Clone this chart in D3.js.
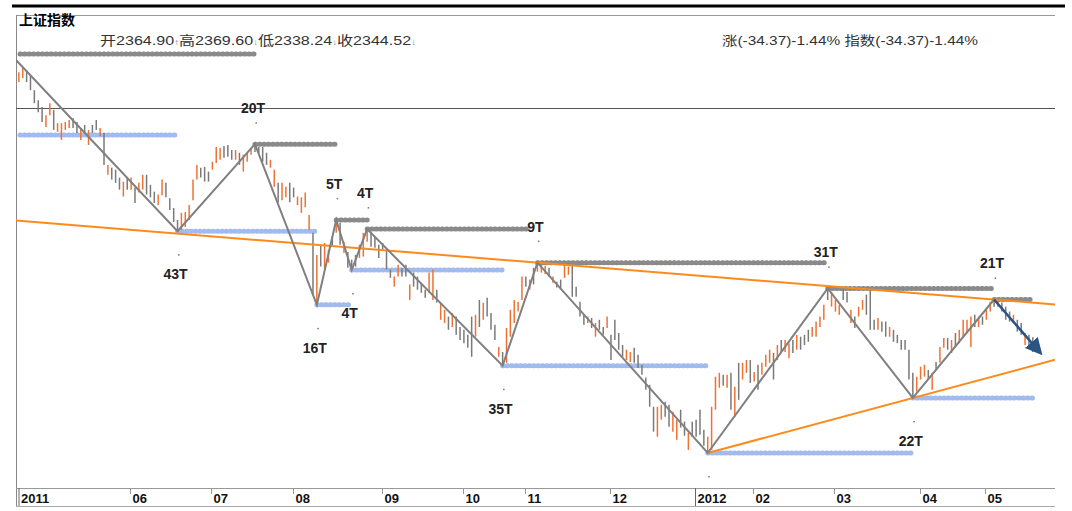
<!DOCTYPE html>
<html>
<head>
<meta charset="utf-8">
<script src="https://cdn.jsdelivr.net/npm/d3@7"></script>
<style>
body { margin: 0; background: #fff; }
text { font-family: "Liberation Sans", Arial, "Noto Sans CJK SC", sans-serif; }
</style>
</head>
<body>
<div id="viz"></div>
<script>
// daily bars, index 0 = 2011-04-19 (trading days)
var dayHigh = [
 3067,3019,3031,3025,3011,2970,2943,2925,2903,2935,
 2917,2882,2882,2885,2890,2895,2885,2869,2877,2864,
 2877,2890,2869,2856,2774,2767,2762,2742,2732,2742,
 2742,2717,2729,2749,2749,2724,2707,2700,2737,2729,
 2691,2667,2638,2655,2657,2674,2737,2774,2767,2769,
 2757,2782,2820,2817,2822,2825,2812,2812,2805,2800,
 2805,2817,2827,2820,2820,2805,2787,2762,2729,2729,
 2719,2729,2717,2695,2693,2705,2650,2607,2555,2579,
 2583,2567,2597,2638,2631,2586,2562,2544,2555,2579,
 2607,2616,2607,2597,2579,2583,2567,2521,2505,2532,
 2525,2532,2487,2514,2505,2491,2475,2514,2521,2475,
 2446,2430,2415,2423,2415,2392,2386,2375,2415,2419,
 2452,2446,2457,2423,2397,2349,2338,2390,2430,2452,
 2448,2505,2505,2498,2525,2537,2532,2530,2525,2505,
 2493,2498,2532,2528,2532,2482,2448,2419,2415,2412,
 2401,2408,2392,2415,2375,2408,2379,2353,2343,2338,
 2347,2332,2311,2284,2269,2224,2224,2228,2234,2228,
 2214,2198,2218,2194,2172,2194,2198,2218,2178,2164,
 2224,2286,2294,2290,2290,2294,2265,2315,2315,2321,
 2321,2296,2311,2315,2332,2343,2336,2353,2364,2364,
 2357,2364,2375,2371,2375,2386,2392,2404,2415,2441,
 2478,2470,2452,2441,2475,2470,2430,2415,2437,2452,
 2464,2475,2408,2412,2404,2404,2392,2386,2375,2364,
 2364,2343,2294,2286,2307,2311,2300,2294,2317,2349,
 2368,2368,2364,2379,2386,2408,2408,2415,2419,2415,
 2415,2430,2448,2453,2452,2446,2437,2426,2419,2408,
 2401,2379,2375,2370
];
var dayLow = [
 3031,2992,3003,2992,2970,2935,2911,2885,2872,2903,
 2864,2859,2838,2864,2869,2869,2856,2838,2856,2825,
 2856,2864,2848,2774,2749,2737,2729,2712,2695,2712,
 2712,2679,2705,2712,2700,2693,2679,2674,2698,2693,
 2662,2633,2611,2614,2621,2638,2686,2737,2742,2732,
 2732,2762,2779,2787,2792,2795,2787,2787,2774,2757,
 2782,2800,2807,2805,2782,2774,2767,2719,2681,2686,
 2693,2681,2693,2674,2655,2669,2614,2464,2441,2528,
 2521,2537,2574,2607,2579,2560,2525,2521,2528,2548,
 2551,2586,2574,2572,2548,2567,2521,2502,2482,2505,
 2505,2505,2452,2482,2475,2468,2457,2468,2452,2446,
 2408,2401,2386,2392,2375,2364,2357,2347,2328,2371,
 2392,2408,2415,2386,2364,2328,2309,2315,2371,2401,
 2426,2452,2482,2475,2487,2516,2514,2511,2505,2491,
 2480,2475,2502,2509,2459,2459,2415,2397,2401,2390,
 2371,2386,2375,2390,2321,2364,2343,2328,2321,2317,
 2315,2304,2290,2259,2224,2174,2164,2198,2204,2184,
 2174,2158,2182,2166,2138,2164,2164,2168,2146,2132,
 2138,2218,2263,2267,2263,2218,2204,2238,2280,2294,
 2273,2276,2259,2290,2307,2315,2280,2321,2338,2338,
 2325,2336,2343,2343,2353,2360,2371,2371,2392,2408,
 2452,2437,2426,2419,2452,2446,2401,2390,2415,2430,
 2419,2386,2386,2386,2382,2371,2371,2360,2357,2343,
 2343,2280,2242,2255,2280,2286,2280,2259,2300,2315,
 2347,2343,2336,2349,2357,2371,2379,2349,2392,2392,
 2397,2408,2426,2437,2437,2426,2408,2404,2401,2382,
 2375,2353,2349,2338
];
// 1 = up day (orange), 0 = down day (gray)
var dayUp = [
 0,1,1,0,0,0,0,0,1,1, 0,1,1,1,1,0,0,1,0,1, 0,0,1,0,1,0,0,0,1,0,
 1,0,1,1,0,0,0,1,1,0, 0,0,0,1,1,1,1,1,0,0, 0,1,1,1,0,0,0,1,0,1,
 1,1,0,0,0,0,1,1,0,1, 1,0,0,1,1,1,1,0,1,0, 1,1,0,1,0,1,0,0,0,1,
 1,1,0,0,0,0,0,0,1,1, 0,0,1,0,0,0,0,1,1,0, 1,1,0,1,0,0,0,0,0,1,
 0,1,0,0,0,1,0,1,1,1, 1,1,0,1,0,1,1,1,0,1, 0,0,1,1,0,0,0,0,1,0,
 1,0,0,1,0,0,0,0,1,1, 0,0,0,0,0,0,1,1,0,0, 1,1,0,0,1,0,0,0,0,1,
 1,1,1,0,1,0,1,0,1,1, 0,1,0,1,1,1,0,1,0,1, 1,0,1,0,0,0,1,1,1,1,
 0,1,1,1,0,0,1,0,1,1, 0,0,0,1,0,0,1,0,0,0, 0,0,0,1,1,1,0,1,0,1,
 1,0,1,0,1,1,1,1,0,1, 0,1,1,0,1,0,0,0,1,0, 0,1,0,0
];

// zigzag turning points
var pivotIdx   = [0, 42, 62, 78, 83, 87, 91, 126, 135, 179, 210, 232, 253];
var pivotPrice = [3056, 2611, 2827, 2441, 2638, 2520, 2616, 2309, 2537, 2132, 2478, 2242, 2453];
var pivotLabel = ["", "43T", "20T", "16T", "5T", "4T", "4T", "35T", "9T", "", "31T", "22T", "21T"];

// dotted levels
var resistLevel = [3070, 2827, 2638, 2616, 2537, 2478, 2453];
var resistFrom  = [0, 62, 83, 91, 135, 210, 253];
var resistTo    = [62, 83, 91, 133, 210, 253, 263];
var supportLevel = [2851, 2611, 2441, 2520, 2309, 2132, 2242];
var supportFrom  = [0, 42, 78, 87, 126, 179, 232];
var supportTo    = [42, 78, 87, 126, 179, 232, 263];

var refLevel = 2922;
var arrowTo = [265, 2336];

var monthIdx   = [0, 30, 51, 72, 95, 116, 132, 154, 176, 191, 212, 234, 251];
var monthLabel = ["2011", "06", "07", "08", "09", "10", "11", "12", "2012", "02", "03", "04", "05"];

var L = 16, R = 1055, T = 15, B = 488;

var svg = d3.select("#viz").append("svg")
  .attr("width", 1072)
  .attr("height", 511)
  .style("display", "block");

var x = d3.scaleLinear().domain([0, 263]).range([15, 1032.8]);
var y = d3.scaleLog().domain([2132, 3067]).range([453, 55]);

svg.append("clipPath").attr("id", "plot")
  .append("rect").attr("x", L).attr("y", T).attr("width", R - L).attr("height", B - T);

// frame
svg.append("line").attr("x1", 12).attr("x2", 1065).attr("y1", 6).attr("y2", 6)
  .attr("stroke", "#000").attr("stroke-width", 3);
svg.append("line").attr("x1", L).attr("x2", R).attr("y1", T + 0.5).attr("y2", T + 0.5)
  .attr("stroke", "#999");
svg.append("line").attr("x1", L + 0.5).attr("x2", L + 0.5).attr("y1", T).attr("y2", 507)
  .attr("stroke", "#888");
svg.append("line").attr("x1", L).attr("x2", R).attr("y1", B + 0.5).attr("y2", B + 0.5)
  .attr("stroke", "#999");
svg.append("line").attr("x1", L).attr("x2", R).attr("y1", 506.5).attr("y2", 506.5)
  .attr("stroke", "#aaa");
svg.append("line").attr("x1", L).attr("x2", R)
  .attr("y1", Math.round(y(refLevel)) + 0.5).attr("y2", Math.round(y(refLevel)) + 0.5)
  .attr("stroke", "#555");

// header
svg.append("text").attr("x", 19).attr("y", 25)
  .attr("font-size", 14).attr("font-weight", "bold").attr("fill", "#000")
  .text("上证指数");

var ohlc = svg.append("text").attr("x", 100).attr("y", 45)
  .attr("font-size", 13).attr("fill", "#333")
  .attr("textLength", 316).attr("lengthAdjust", "spacingAndGlyphs");
[["开2364.90", "↑"], ["高2369.60", "↓"], ["低2338.24", "↓"], ["收2344.52", "↓"]].forEach(function(p) {
  ohlc.append("tspan").text(p[0]);
  ohlc.append("tspan").attr("font-size", 8).attr("fill", "#888").text(p[1]);
});

svg.append("text").attr("x", 722).attr("y", 45)
  .attr("font-size", 13).attr("fill", "#333")
  .attr("textLength", 256).attr("lengthAdjust", "spacingAndGlyphs")
  .text("涨(-34.37)-1.44% 指数(-34.37)-1.44%");

var plot = svg.append("g").attr("clip-path", "url(#plot)");

// dotted levels
function dotted(levels, from, to, color) {
  plot.selectAll(null)
    .data(levels.map(function(v, k) { return [v, from[k], to[k]]; }))
    .join("line")
    .attr("x1", function(d) { return Math.max(L + 4, x(d[1])); })
    .attr("x2", function(d) { return x(d[2]); })
    .attr("y1", function(d) { return y(d[0]); })
    .attr("y2", function(d) { return y(d[0]); })
    .attr("stroke", color)
    .attr("stroke-width", 5)
    .attr("stroke-linecap", "round")
    .attr("stroke-dasharray", "0.8,3.6");
}
dotted(supportLevel, supportFrom, supportTo, "#a2bbef");
dotted(resistLevel, resistFrom, resistTo, "#8a8a8a");

// bars
plot.selectAll(".bar")
  .data(d3.range(dayHigh.length))
  .join("line")
  .attr("class", "bar")
  .attr("x1", function(i) { return x(i); })
  .attr("x2", function(i) { return x(i); })
  .attr("y1", function(i) { return y(dayHigh[i]); })
  .attr("y2", function(i) { return y(dayLow[i]); })
  .attr("stroke", function(i) { return dayUp[i] ? "#f07232" : "#7a7a7a"; })
  .attr("stroke-width", 1.5);

// trend lines
function extended(a, b, x0, x1) {
  var ax = x(pivotIdx[a]), ay = y(pivotPrice[a]);
  var bx = x(pivotIdx[b]), by = y(pivotPrice[b]);
  var s = (by - ay) / (bx - ax);
  return [[x0, ay + s * (x0 - ax)], [x1, ay + s * (x1 - ax)]];
}
var topLine = extended(8, 12, L, R);
var lowLine = extended(9, 11, x(pivotIdx[9]), R);
[topLine, lowLine].forEach(function(p) {
  plot.append("line")
    .attr("x1", p[0][0]).attr("y1", p[0][1])
    .attr("x2", p[1][0]).attr("y2", p[1][1])
    .attr("stroke", "#ff8a1c").attr("stroke-width", 2);
});

// zigzag
plot.append("path")
  .datum(pivotIdx.map(function(d, k) { return [d, pivotPrice[k]]; }))
  .attr("d", d3.line().x(function(d) { return x(d[0]); }).y(function(d) { return y(d[1]); }))
  .attr("fill", "none")
  .attr("stroke", "#808080")
  .attr("stroke-width", 2);

// arrow
svg.append("defs").append("marker")
  .attr("id", "head")
  .attr("viewBox", "0 0 10 10")
  .attr("refX", 2).attr("refY", 5)
  .attr("markerUnits", "userSpaceOnUse")
  .attr("markerWidth", 17).attr("markerHeight", 17)
  .attr("orient", "auto")
  .append("path").attr("d", "M0,0 L10,5 L0,10 z").attr("fill", "#2b5384");
svg.append("line")
  .attr("x1", x(pivotIdx[12])).attr("y1", y(pivotPrice[12]))
  .attr("x2", x(arrowTo[0]) - 7).attr("y2", y(arrowTo[1]) - 8)
  .attr("stroke", "#2b5384").attr("stroke-width", 2.5)
  .attr("marker-end", "url(#head)");

// pivot labels
pivotIdx.forEach(function(d, k) {
  if (k === 0) return;
  var isHigh = k % 2 === 0;
  var px = x(d), py = y(pivotPrice[k]);
  svg.append("rect")
    .attr("x", px + 0.5).attr("y", isHigh ? py - 22 : py + 23)
    .attr("width", 1.5).attr("height", 1.5).attr("fill", "#777");
  if (!pivotLabel[k]) return;
  svg.append("text")
    .attr("x", px - 2)
    .attr("y", isHigh ? py - 31 : py + 48)
    .attr("text-anchor", "middle")
    .attr("font-size", 14).attr("font-weight", "bold").attr("fill", "#222")
    .text(pivotLabel[k]);
});

// time axis
monthIdx.forEach(function(d, k) {
  var tx = k === 0 ? L + 3 : Math.round(x(d)) - 0.5;
  var isYear = monthLabel[k].length === 4;
  svg.append("line")
    .attr("x1", tx).attr("x2", tx)
    .attr("y1", B).attr("y2", isYear ? 506 : B + 6)
    .attr("stroke", isYear ? "#666" : "#999");
  svg.append("text")
    .attr("x", tx + 2).attr("y", 503)
    .attr("font-size", 13).attr("font-weight", "bold").attr("fill", "#111")
    .text(monthLabel[k]);
});
</script>
</body>
</html>
